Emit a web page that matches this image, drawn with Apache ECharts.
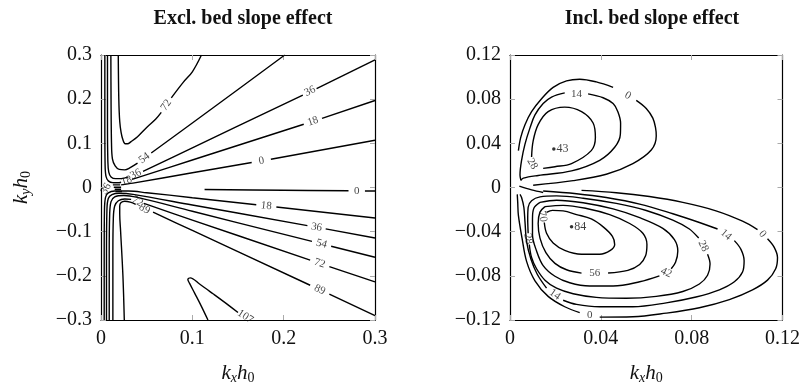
<!DOCTYPE html>
<html>
<head>
<meta charset="utf-8">
<script src="https://cdn.jsdelivr.net/npm/echarts@6/dist/echarts.min.js"></script>
<style>
html,body{margin:0;padding:0;background:#fff;}
#chart{width:803px;height:390px;}
</style>
</head>
<body>
<div id="chart"></div>
<script>
// ---------- Titles / ticks ----------
const titles = ['Excl. bed slope effect', 'Incl. bed slope effect'];
const exclRange = [-0.3, 0.3, 0.1];   // min, max, tick step (y); x: 0..0.3
const inclRange = [-0.12, 0.12, 0.04]; // y; x: 0..0.12

// ---------- Left panel (Excl.) contour lines, [kx*h0, ky*h0]; null = gap for label ----------
const excl_0_upper = [[0.022,0.006],[0.035,0.010],[0.1,0.0333],[0.165,0.0566],null,[0.186,0.0641],[0.3,0.107]];
const excl_0_inner = [[0.1134,-0.0044],[0.2,-0.0063],[0.271,-0.0073],null,[0.289,-0.0078],[0.3,-0.008]];
const excl_18_upper = [[0.0042,0.3],[0.0042,0.15],[0.0045,0.05],[0.0055,0.025],[0.008,0.015],[0.013,0.011],[0.02,0.011],[0.022,0.0118],null,[0.034,0.0185],[0.1,0.0623],[0.222,0.1432],null,[0.242,0.1566],[0.3,0.197]];
const excl_36_upper = [[0.0071,0.3],[0.0071,0.15],[0.0075,0.06],[0.0085,0.035],[0.011,0.024],[0.016,0.02],[0.022,0.02],[0.03,0.024],null,[0.046,0.0365],[0.1,0.0898],[0.221,0.2093],null,[0.236,0.224],[0.3,0.289]];
const excl_54_upper = [[0.0108,0.3],[0.011,0.2],[0.0115,0.1],[0.0125,0.065],[0.0155,0.049],[0.02,0.041],[0.026,0.040],[0.032,0.045],[0.04,0.055],null,[0.055,0.078],[0.1,0.146],[0.15,0.222],[0.2012,0.3]];
const excl_72_upper = [[0.0189,0.3],[0.0195,0.2],[0.0205,0.15],[0.022,0.125],[0.024,0.108],[0.0265,0.099],[0.029,0.099],[0.033,0.104],[0.04,0.115],[0.05,0.136],[0.06,0.155],[0.066,0.17],null,[0.077,0.203],[0.09,0.238],[0.1,0.262],[0.11,0.3]];
const excl_18_lower = [[0.0035,-0.3],[0.0035,-0.15],[0.0038,-0.05],[0.005,-0.022],[0.008,-0.012],[0.015,-0.008],[0.03,-0.008],[0.05,-0.0118],[0.1,-0.0231],[0.17,-0.0391],null,[0.192,-0.0441],[0.3,-0.069]];
const excl_36_lower = [[0.006,-0.3],[0.006,-0.15],[0.0065,-0.05],[0.008,-0.025],[0.012,-0.016],[0.02,-0.013],[0.035,-0.0155],[0.1,-0.0396],[0.226,-0.0862],null,[0.246,-0.0937],[0.3,-0.1144]];
const excl_54_lower = [[0.009,-0.3],[0.009,-0.15],[0.0095,-0.06],[0.011,-0.032],[0.015,-0.021],[0.025,-0.018],[0.04,-0.0225],[0.1,-0.0538],[0.231,-0.122],null,[0.252,-0.133],[0.3,-0.158]];
const excl_72_lower = [[0.013,-0.3],[0.013,-0.15],[0.0135,-0.07],[0.015,-0.042],[0.019,-0.030],[0.026,-0.026],[0.033,-0.027],null,[0.047,-0.036],[0.1,-0.0737],[0.229,-0.1644],null,[0.25,-0.1792],[0.3,-0.2135]];
const excl_89_lower = [[0.0255,-0.3],[0.024,-0.2],[0.0215,-0.1],[0.0205,-0.06],[0.0205,-0.042],[0.022,-0.034],[0.026,-0.031],[0.032,-0.033],[0.038,-0.038],null,[0.057,-0.0558],[0.1,-0.0972],[0.229,-0.2213],null,[0.25,-0.2415],[0.3,-0.29]];
const excl_107 = [[0.1171,-0.3],[0.1098,-0.2685],[0.1025,-0.2391],[0.097,-0.2171],[0.0951,-0.2083],[0.0977,-0.2047],[0.1079,-0.2186],[0.1226,-0.2406],[0.1409,-0.2685],[0.150,-0.2831]];
const excl_center = [[0.013,0.011],[0.021,0.011],null,[0.013,0.006],[0.021,0.006],null,[0.014,0.0005],[0.022,0.0005],null,[0.015,-0.004],[0.022,-0.004],null,[0.016,-0.009],[0.023,-0.009]];
// contour labels: [x, y, text, rotation°]
const excl_labels = [
  [0.0714,0.1865,'72',55],[0.0475,0.0665,'54',37],[0.038,0.030,'36',26],[0.028,0.0152,'18',20],
  [0.2287,0.218,'36',26],[0.232,0.1499,'18',19],[0.1756,0.0604,'0',10],[0.28,-0.0076,'0',0],
  [0.181,-0.0418,'18',-6],[0.236,-0.090,'36',-10],[0.2415,-0.1275,'54',-15],[0.2395,-0.1718,'72',-19],
  [0.2395,-0.2315,'89',-26],[0.040,-0.0315,'72',-30],[0.0475,-0.0485,'89',-30],[0.0055,-0.003,'36',60],
  [0.158,-0.2925,'107',-33]
];

// ---------- Right panel (Incl.) contour lines ----------
const incl_0_upper = [[0.0037,0.0334],[0.0047,0.0452],[0.0066,0.0569],[0.0095,0.0687],[0.0139,0.0804],[0.0190,0.0907],[0.0249,0.0965],[0.0307,0.0980],[0.0380,0.0956],[0.0454,0.0907],null,[0.0556,0.0789],[0.0600,0.0716],[0.0629,0.0628],[0.0641,0.0540],[0.0644,0.0467],[0.0622,0.0340],[0.0541,0.0217],[0.0424,0.0120],[0.0278,0.0062],[0.0102,0.0021]];
const incl_14_upper = [[0.0048,0.0065],[0.0044,0.0114],[0.0051,0.0246],[0.0066,0.0393],[0.0088,0.0540],[0.0110,0.0657],[0.0146,0.0760],[0.0183,0.0819],[0.0241,0.0857],null,[0.0344,0.0848],[0.0410,0.0813],[0.0454,0.0760],[0.0475,0.0687],[0.0487,0.0584],[0.0486,0.0481],[0.0461,0.0364],[0.0395,0.0246],[0.0271,0.0150],[0.0124,0.0109],[0.0059,0.0085],[0.0048,0.0065]];
const incl_28_upper = [[0.0146,0.0173],[0.0198,0.0188],[0.0271,0.0217],[0.0358,0.0334],[0.0376,0.0452],[0.0366,0.0584],[0.0315,0.0687],[0.0241,0.0728],[0.0168,0.0687],[0.0124,0.0569],[0.0102,0.0422],[0.0095,0.0276]];
const incl_0_lower = [[0.0315,-0.0026],[0.0468,-0.0047],[0.0614,-0.0082],[0.0761,-0.0135],[0.0907,-0.0211],[0.1024,-0.0305],[0.1090,-0.0381],null,[0.1134,-0.0464],[0.1163,-0.0540],[0.1178,-0.0634],[0.1170,-0.0736],[0.1134,-0.0839],[0.1068,-0.0927],[0.0966,-0.1015],[0.0834,-0.1089],[0.0688,-0.1138],[0.0541,-0.1171],[0.0395,-0.1174],null,[0.0307,-0.1133],[0.0241,-0.1080],[0.0168,-0.0986],[0.0110,-0.0845],[0.0073,-0.0669],[0.0053,-0.0458],[0.0037,-0.0252],[0.0034,-0.0135],[0.0032,-0.0062],null,[0.0041,0.0012],[0.0095,-0.0022],[0.0146,-0.0045]];
const incl_14_lower = [[0.0146,-0.0032],[0.0293,-0.0056],[0.0424,-0.0091],[0.0571,-0.0150],[0.0717,-0.0238],[0.0834,-0.0317],[0.0914,-0.0376],null,[0.0988,-0.0481],[0.1017,-0.0560],[0.1031,-0.0663],[0.1024,-0.0766],[0.0988,-0.0854],[0.0922,-0.0927],[0.0819,-0.0992],[0.0688,-0.1045],[0.0541,-0.1080],[0.0395,-0.1080],[0.0293,-0.1059],[0.0234,-0.1021],null,[0.0161,-0.0912],[0.0120,-0.0786],[0.0092,-0.0648],[0.0073,-0.0487],[0.0066,-0.0311],[0.0061,-0.0179],[0.0051,-0.0091],[0.0044,-0.0062]];
const incl_28_lower = [[0.0080,-0.0414],[0.0078,-0.0282],[0.0080,-0.0179],[0.0095,-0.0120],[0.0132,-0.0085],[0.0205,-0.0076],[0.0322,-0.0097],[0.0468,-0.0144],[0.0600,-0.0208],[0.0717,-0.0296],[0.0790,-0.0376],[0.0831,-0.0458],null,[0.0870,-0.0604],[0.0881,-0.0692],[0.0870,-0.0795],[0.0834,-0.0874],[0.0761,-0.0942],[0.0644,-0.0986],[0.0512,-0.1003],[0.0380,-0.0995],[0.0278,-0.0962],[0.0205,-0.0912],[0.0154,-0.0839],[0.0117,-0.0736],[0.0095,-0.0634],[0.0085,-0.0516]];
const incl_42_lower = [[0.0132,-0.0135],[0.0205,-0.0115],[0.0322,-0.0138],[0.0454,-0.0194],[0.0571,-0.0273],[0.0673,-0.0370],[0.0724,-0.0472],[0.0739,-0.0575],[0.0729,-0.0678],[0.0710,-0.0736],null,[0.0658,-0.0801],[0.0571,-0.0854],[0.0454,-0.0892],[0.0351,-0.0892],[0.0263,-0.0863],[0.0198,-0.0804],[0.0146,-0.0707],[0.0117,-0.0575],[0.0099,-0.0428],[0.0099,-0.0282],[0.0105,-0.0188],[0.0132,-0.0135]];
const incl_56_lower = [[0.0154,-0.0173],[0.0234,-0.0162],[0.0337,-0.0190],[0.0439,-0.0246],[0.0527,-0.0326],[0.0585,-0.0414],[0.0603,-0.0516],[0.0597,-0.0619],[0.0571,-0.0698],[0.0519,-0.0751],[0.0432,-0.0775],null,[0.0315,-0.0775],[0.0249,-0.0745],[0.0198,-0.0687],[0.0158,-0.0590],[0.0132,-0.0458],[0.0124,-0.0326],[0.0132,-0.0223],[0.0154,-0.0173]];
const incl_70_lower = [[0.0151,-0.0317],[0.0161,-0.0414],[0.0190,-0.0502],[0.0241,-0.0569],[0.0315,-0.0604],[0.0395,-0.0604],[0.0442,-0.0569],[0.0461,-0.0516],[0.0451,-0.0443],[0.0413,-0.0361],[0.0358,-0.0285],[0.0293,-0.0245],[0.0234,-0.0212],[0.0187,-0.0207],[0.0161,-0.0225]];
const incl_labels = [
  [0.0519,0.0833,'0',-30],[0.0293,0.0850,'14',0],[0.0098,0.0215,'28',-60],
  [0.1112,-0.0422,'0',-50],[0.0951,-0.0428,'14',-40],[0.0851,-0.0531,'28',-65],[0.0688,-0.0772,'42',-25],
  [0.0373,-0.0778,'56',0],[0.0143,-0.0262,'70',-80],[0.0080,-0.0465,'28',-80],[0.0198,-0.0970,'14',-35],
  [0.0351,-0.1158,'0',0]
];
// peak markers: [x, y, value]
const incl_peaks = [[0.0193,0.0349,'43'],[0.0271,-0.0355,'84']];

// ---------- build ----------
function segments(arr){
  const out=[]; let cur=[];
  arr.forEach(p=>{ if(p===null){ if(cur.length) out.push(cur); cur=[]; } else cur.push(p); });
  if(cur.length) out.push(cur);
  return out;
}
const exclContours = [excl_0_upper, excl_0_inner, excl_18_upper, excl_36_upper, excl_54_upper, excl_72_upper,
  excl_18_lower, excl_36_lower, excl_54_lower, excl_72_lower, excl_89_lower, excl_107, excl_center];
const inclContours = [incl_0_upper, incl_14_upper, incl_28_upper, incl_0_lower, incl_14_lower,
  incl_28_lower, incl_42_lower, incl_56_lower, incl_70_lower];

const SERIF = '"Liberation Serif", "DejaVu Serif", serif';
const series = [];
function addLines(list, idx){
  list.forEach(c => segments(c).forEach(seg => series.push({
    type:'line', xAxisIndex: idx*2, yAxisIndex: idx*2, data: seg, showSymbol:false, symbol:'none',
    smooth:0.35, silent:true, clip:true, animation:false,
    lineStyle:{color:'#000', width:1.4}
  })));
}
addLines(exclContours, 0);
addLines(inclContours, 1);
function addLabels(list, idx){
  series.push({
    type:'scatter', xAxisIndex: idx*2, yAxisIndex: idx*2, symbolSize:0, silent:true, animation:false, z:5,
    data: list.map(l => ({value:[l[0], l[1]], label:{formatter:l[2], rotate:l[3]}})),
    label:{show:true, position:'inside', fontFamily:SERIF, fontSize:11, color:'#111'}
  });
}
addLabels(excl_labels, 0);
addLabels(incl_labels, 1);
series.push({
  type:'scatter', xAxisIndex:2, yAxisIndex:2, symbol:'circle', symbolSize:3.5, silent:true, animation:false,
  itemStyle:{color:'#000'},
  data: incl_peaks.map(p => ({value:[p[0], p[1]], label:{formatter:p[2]}})),
  label:{show:true, position:'right', distance:1, fontFamily:SERIF, fontSize:12, color:'#111'}
});

function fmt(v){
  if (Math.abs(v) < 1e-9) return '0';
  const s = String(+Math.abs(v).toFixed(2));
  return (v < 0 ? '\u2212' : '') + s;
}
const nameRich = {
  i:{fontFamily:SERIF, fontStyle:'italic', fontSize:21, lineHeight:23, color:'#111'},
  si:{fontFamily:SERIF, fontStyle:'italic', fontSize:14, lineHeight:8, verticalAlign:'bottom', color:'#111'},
  s:{fontFamily:SERIF, fontSize:14, lineHeight:8, verticalAlign:'bottom', color:'#111'}
};
const tickStyle = {inside:true, length:5, lineStyle:{color:'#aaaaaa', width:1}};
const lblStyle = {fontFamily:SERIF, fontSize:20, color:'#111', margin:9, formatter:fmt};
function xAxes(g, max, step, withName){
  return [
    {gridIndex:g, type:'value', min:0, max:max, interval:step, position:'bottom',
     axisLine:{onZero:false, lineStyle:{color:'#000', width:1.2}}, axisTick:tickStyle, axisLabel:lblStyle,
     splitLine:{show:false},
     name: withName ? '{i|k}{si|x}{i|h}{s|0}' : '', nameLocation:'middle', nameGap:42,
     nameTextStyle:{rich:nameRich}},
    {gridIndex:g, type:'value', min:0, max:max, interval:step, position:'top',
     axisLine:{onZero:false, lineStyle:{color:'#000', width:1.2}}, axisTick:tickStyle, axisLabel:{show:false},
     splitLine:{show:false}}
  ];
}
function yAxes(g, r, withName){
  return [
    {gridIndex:g, type:'value', min:r[0], max:r[1], interval:r[2], position:'left',
     axisLine:{onZero:false, lineStyle:{color:'#000', width:1.2}}, axisTick:tickStyle, axisLabel:lblStyle,
     splitLine:{show:false},
     name: withName ? '{i|k}{si|y}{i|h}{s|0}' : '', nameLocation:'middle', nameGap:68, nameRotate:90,
     nameTextStyle:{rich:nameRich}},
    {gridIndex:g, type:'value', min:r[0], max:r[1], interval:r[2], position:'right',
     axisLine:{onZero:false, lineStyle:{color:'#000', width:1.2}}, axisTick:tickStyle, axisLabel:{show:false},
     splitLine:{show:false}}
  ];
}

const chart = echarts.init(document.getElementById('chart'), null, {renderer:'canvas'});
chart.setOption({
  backgroundColor:'#fff',
  animation:false,
  title:[
    {text:titles[0], left:238, top:4, textAlign:'center',
     textStyle:{fontFamily:SERIF, fontWeight:'bold', fontSize:20, color:'#111'}},
    {text:titles[1], left:647, top:4, textAlign:'center',
     textStyle:{fontFamily:SERIF, fontWeight:'bold', fontSize:20, color:'#111'}}
  ],
  grid:[
    {left:101, top:55, width:274, height:273, containLabel:false},
    {left:510, top:55, width:273, height:273, containLabel:false}
  ],
  xAxis:[...xAxes(0, 0.3, 0.1, true), ...xAxes(1, 0.12, 0.04, true)],
  yAxis:[...yAxes(0, exclRange, true), ...yAxes(1, inclRange, false)],
  series: series
});
</script>
</body>
</html>
